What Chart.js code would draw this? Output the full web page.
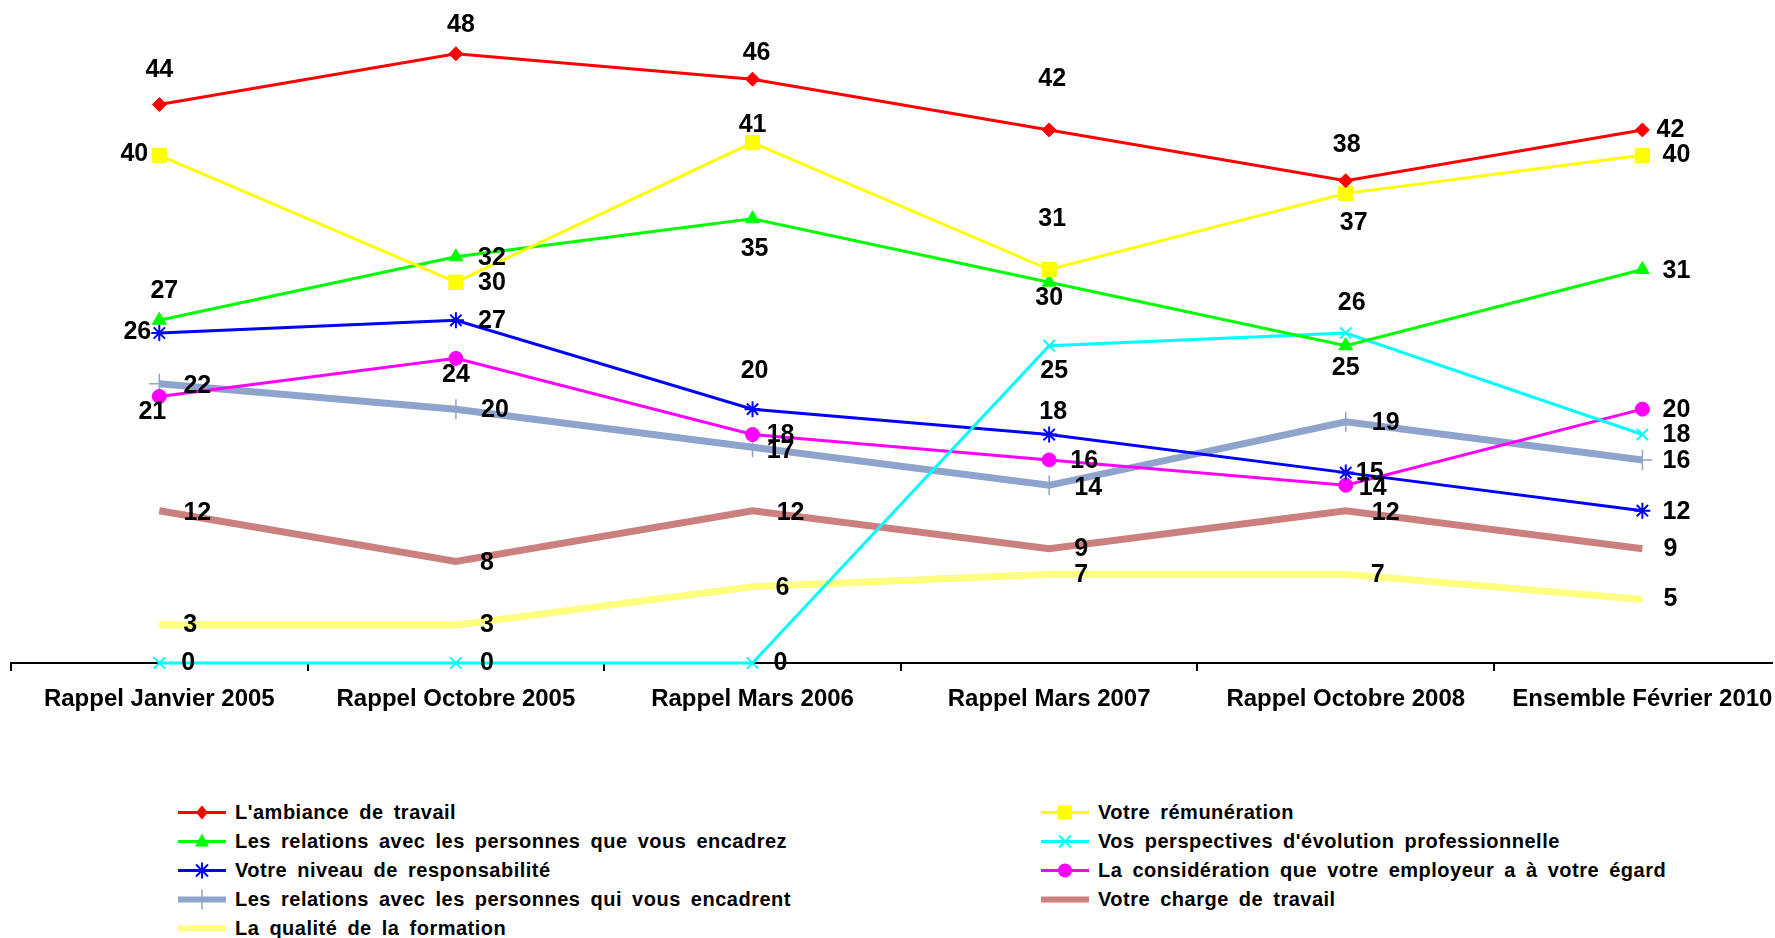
<!DOCTYPE html>
<html><head><meta charset="utf-8">
<script src="https://cdn.jsdelivr.net/npm/chart.js@4/dist/chart.umd.min.js"></script>
<style>
body{margin:0;background:#fff;}
#wrap{position:relative;width:1775px;height:938px;overflow:hidden;background:#fff;}
#cbox{position:absolute;left:0;top:0;width:1775px;height:723px;}
.leg{position:absolute;height:29px;font:bold 20px "Liberation Sans",Arial,sans-serif;letter-spacing:0.5px;word-spacing:4px;color:#000;white-space:nowrap;line-height:29px;}
.leg svg{position:absolute;left:0;top:0;}
.leg span{position:absolute;left:57px;top:0;}
</style></head>
<body><div id="wrap"><div id="cbox"><canvas id="c"></canvas></div></div>
<script>
// ---- data ----
const categories = ['Rappel Janvier 2005','Rappel Octobre 2005','Rappel Mars 2006','Rappel Mars 2007','Rappel Octobre 2008','Ensemble Février 2010'];
const seriesNames = [
  "L'ambiance de travail",
  "Votre rémunération",
  "Les relations avec les personnes que vous encadrez",
  "Vos perspectives d'évolution professionnelle",
  "Votre niveau de responsabilité",
  "La considération que votre employeur a à votre égard",
  "Les relations avec les personnes qui vous encadrent",
  "Votre charge de travail",
  "La qualité de la formation"
];
const ambiance = [44,48,46,42,38,42];
const remuneration = [40,30,41,31,37,40];
const relationsEncadrez = [27,32,35,30,25,31];
const perspectives = [0,0,0,25,26,18];
const responsabilite = [26,27,20,18,15,12];
const consideration = [21,24,18,16,14,20];
const relationsEncadrent = [22,20,17,14,19,16];
const charge = [12,8,12,9,12,9];
const formation = [3,3,6,7,7,5];
const seriesValues = [ambiance, remuneration, relationsEncadrez, perspectives, responsabilite, consideration, relationsEncadrent, charge, formation];

// ---- styles (kept apart from data) ----
const styles = [
  {color:'#FF0000', width:3, point:'rectRot', r:7, bw:1},
  {color:'#FFFF00', width:3, point:'rect', r:10, bw:1},
  {color:'#00FF00', width:3, point:'triangle', r:8, bw:1},
  {color:'#00FFFF', width:3, point:'crossRot', r:8, bw:2},
  {color:'#0000FF', width:3, point:'star', r:8, bw:2},
  {color:'#FF00FF', width:3, point:'circle', r:7, bw:1},
  {color:'#8EA4CC', width:7, point:'cross', r:10, bw:1.5},
  {color:'#CC7F7F', width:7, point:false, r:0, bw:0},
  {color:'#FFFF80', width:7, point:false, r:0, bw:0}
];
// data label offsets (text centre relative to point, px)
const labelOffsets = [
  [[0,-34],[5,-29],[4,-26],[3,-51],[1,-36],[28,0]],
  [[-25,-1],[36,1],[0,-18],[3,-50],[8,30],[34,0]],
  [[5,-29],[36,1],[2,30],[0,16],[0,22],[34,2]],
  [[29,0],[31,0],[28,0],[5,25],[6,-30],[34,1]],
  [[-22,-1],[36,1],[2,-38],[4,-22],[24,0],[34,1]],
  [[-7,16],[0,17],[28,1],[35,1],[27,3],[34,1]],
  [[38,2],[39,1],[28,4],[39,3],[40,1],[34,1]],
  [[38,2],[31,2],[38,2],[32,0],[40,2],[28,0]],
  [[31,0],[31,0],[30,1],[32,1],[32,1],[28,0]]
];
const X_MIN = -0.5, X_MAX = 5.437;

const datasets = seriesValues.map((vals,i)=>({
  label: seriesNames[i],
  data: vals.map((v,j)=>({x:j, y:v})),
  borderColor: styles[i].color,
  backgroundColor: styles[i].color,
  borderWidth: styles[i].width,
  pointStyle: styles[i].point,
  pointRadius: styles[i].r,
  pointHoverRadius: styles[i].r,
  pointBorderWidth: styles[i].bw,
  pointBorderColor: styles[i].color,
  pointBackgroundColor: styles[i].color,
  tension: 0,
  clip: false,
  order: i
}));

const labelPlugin = {
  id:'vlabels',
  afterDatasetsDraw(chart){
    const ctx = chart.ctx;
    ctx.save();
    ctx.font = 'bold 25px "Liberation Sans", Arial, sans-serif';
    ctx.fillStyle = '#000';
    ctx.textAlign = 'center';
    ctx.textBaseline = 'middle';
    chart.data.datasets.forEach((ds,i)=>{
      const meta = chart.getDatasetMeta(i);
      meta.data.forEach((pt,j)=>{
        const off = labelOffsets[i][j];
        ctx.fillText(String(seriesValues[i][j]), pt.x + off[0], pt.y + off[1]);
      });
    });
    ctx.restore();
  }
};

new Chart(document.getElementById('c'), {
  type:'line',
  data:{datasets},
  plugins:[labelPlugin],
  options:{
    responsive:true, maintainAspectRatio:false, animation:false,
    layout:{autoPadding:false, padding:{left:11, right:3, top:3, bottom:0}},
    plugins:{legend:{display:false}, tooltip:{enabled:false}},
    scales:{
      y:{display:false, min:0, max:52},
      x:{
        type:'linear', min:X_MIN, max:X_MAX,
        afterBuildTicks: s => {
          const t = [];
          for (let v=-0.5; v<=5.001; v+=0.5) t.push({value:v});
          t.push({value:X_MAX});
          s.ticks = t;
        },
        afterFit: s => { s.height = 60; },
        grid:{
          drawOnChartArea:false, tickLength:8, lineWidth:2,
          color: c => (c.tick && Math.abs(c.tick.value - Math.round(c.tick.value)) > 0.1 && c.tick.value < 5) ? '#000' : 'rgba(0,0,0,0)'
        },
        border:{display:true, color:'#000', width:2},
        ticks:{
          autoSkip:false, maxRotation:0, minRotation:0, padding:0, color:'#000',
          font:{family:'"Liberation Sans", Arial, sans-serif', size:24, weight:'bold', lineHeight:2.37},
          callback: v => (Math.abs(v - Math.round(v)) < 0.01 && v >= 0 && v <= 5) ? categories[Math.round(v)] : ''
        }
      }
    }
  }
});

// ---- HTML legend ----
function markerSvg(st){
  const c = st.color, cx = 24, cy = 14.5;
  let m = '';
  switch(st.point){
    case 'rectRot': m = `<polygon points="${cx},${cy-7} ${cx+6},${cy} ${cx},${cy+7} ${cx-6},${cy}" fill="${c}"/>`; break;
    case 'rect': m = `<rect x="${cx-7}" y="${cy-7}" width="14" height="14" fill="${c}"/>`; break;
    case 'triangle': m = `<polygon points="${cx},${cy-8} ${cx+7},${cy+5} ${cx-7},${cy+5}" fill="${c}"/>`; break;
    case 'crossRot': m = `<path d="M${cx-6} ${cy-6}L${cx+6} ${cy+6}M${cx+6} ${cy-6}L${cx-6} ${cy+6}" stroke="${c}" stroke-width="2"/>`; break;
    case 'star': m = `<path d="M${cx-6} ${cy-6}L${cx+6} ${cy+6}M${cx+6} ${cy-6}L${cx-6} ${cy+6}M${cx} ${cy-8}L${cx} ${cy+8}" stroke="${c}" stroke-width="2"/>`; break;
    case 'circle': m = `<circle cx="${cx}" cy="${cy}" r="7" fill="${c}"/>`; break;
    case 'cross': m = `<path d="M${cx} ${cy-10}L${cx} ${cy+10}" stroke="${c}" stroke-width="1.5"/>`; break;
  }
  return `<svg width="48" height="29"><line x1="0" y1="${cy}" x2="48" y2="${cy}" stroke="${c}" stroke-width="${Math.min(st.width,6)}"/>${m}</svg>`;
}
const legendCols = [[0,2,4,6,8],[1,3,5,7]];
const colLeft = [178, 1041];
const rowTop = 797.5, rowStep = 29.2;
const wrap = document.getElementById('wrap');
legendCols.forEach((col,ci)=>{
  col.forEach((si,ri)=>{
    const d = document.createElement('div');
    d.className = 'leg';
    d.style.left = colLeft[ci] + 'px';
    d.style.top = (rowTop + ri*rowStep) + 'px';
    d.innerHTML = markerSvg(styles[si]) + '<span></span>';
    d.querySelector('span').textContent = seriesNames[si];
    wrap.appendChild(d);
  });
});
</script>
</body></html>
